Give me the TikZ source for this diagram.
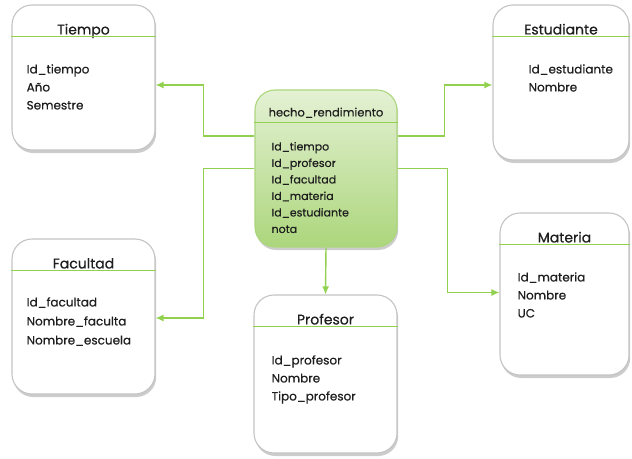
\documentclass[tikz,border=0pt]{standalone}
\usepackage{fontspec}
\setmainfont{Poppins}[FakeBold=0.5]
\usepackage{tikz}
\usetikzlibrary{positioning,arrows.meta,shadows}

\definecolor{verde}{RGB}{146,208,80}
\definecolor{verdeclaro}{RGB}{228,241,212}
\definecolor{verdefuerte}{RGB}{172,214,124}
\definecolor{borde}{RGB}{196,196,196}
\definecolor{letra}{RGB}{30,30,30}

\tikzset{
  tabla/.style={draw=borde, line width=1.1pt, rounded corners=20pt, fill=white, inner sep=0pt,
    drop shadow={opacity=0.4, shadow xshift=1.2pt, shadow yshift=-3pt}},
  hecho/.style={tabla, draw=verdefuerte, top color=verdeclaro, bottom color=verdefuerte},
  titulo/.style={font=\fontsize{14}{16}\selectfont, text=letra, anchor=base, inner sep=0pt},
  campo/.style={font=\fontsize{12}{14}\selectfont, text=letra, anchor=base west, inner sep=0pt},
  linea/.style={verde, line width=1.2pt},
  enlace/.style={verde, line width=1.4pt, -{Latex[length=8pt,width=7pt]}}
}

\begin{document}
\begin{tikzpicture}[x=1pt, y=-1pt]
\useasboundingbox (0,0) rectangle (632,458);

% tablas
\node[tabla, minimum width=143pt, minimum height=145pt](tiempo) at (83.5,77.5) {};
\node[tabla, minimum width=136pt, minimum height=155pt](estudiante) at (561,82.5) {};
\node[tabla, minimum width=143pt, minimum height=155pt](facultad) at (83.5,316.5) {};
\node[tabla, minimum width=143pt, minimum height=158pt](profesor) at (325.5,374) {};
\node[tabla, minimum width=129pt, minimum height=162pt](materia) at (564.5,294) {};
\node[hecho, minimum width=142pt, minimum height=157pt](hecho) at (326,168.5) {};

% cabeceras
\foreach \t/\n in {tiempo/Tiempo, estudiante/Estudiante, facultad/Facultad, profesor/Profesor, materia/Materia}
	{\node[titulo](\t-t) at ([yshift=-30pt]\t.north) {\n};
	\draw[linea] ([yshift=-32pt]\t.north west) -- ([yshift=-32pt]\t.north east);}
\node[titulo, font=\fontsize{11.5}{14}\selectfont](hecho-t) at ([yshift=-27pt]hecho.north) {hecho\_rendimiento};
\draw[linea] ([yshift=-33pt]hecho.north west) -- ([yshift=-33pt]hecho.north east);

% campos
\foreach \c [count=\i from 0] in {Id\_tiempo, Año, Semestre}
	\node[campo](tiempo-\i) at ([xshift=15pt, yshift={-69pt-18pt*\i}]tiempo.north west) {\c};
\foreach \c [count=\i from 0] in {Id\_estudiante, Nombre}
	\node[campo](estudiante-\i) at ([xshift=36pt, yshift={-69pt-18pt*\i}]estudiante.north west) {\c};
\foreach \c [count=\i from 0] in {Id\_facultad, Nombre\_faculta, Nombre\_escuela}
	\node[campo](facultad-\i) at ([xshift=15pt, yshift={-68pt-19pt*\i}]facultad.north west) {\c};
\foreach \c [count=\i from 0] in {Id\_profesor, Nombre, Tipo\_profesor}
	\node[campo](profesor-\i) at ([xshift=18pt, yshift={-70pt-18pt*\i}]profesor.north west) {\c};
\foreach \c [count=\i from 0] in {Id\_materia, Nombre, UC}
	\node[campo](materia-\i) at ([xshift=18pt, yshift={-69pt-18pt*\i}]materia.north west) {\c};
\foreach \c [count=\i from 0] in {Id\_tiempo, Id\_profesor, Id\_facultad, Id\_materia, Id\_estudiante, nota}
	\node[campo, font=\fontsize{11}{13}\selectfont](hecho-\i) at ([xshift=17pt, yshift={-61pt-16.5pt*\i}]hecho.north west) {\c};

% enlaces
\draw[enlace] ([yshift=32.5pt]hecho.west) -- ++(-51,0) |- ([yshift=-7.5pt]tiempo.east);
\draw[enlace] (hecho.west) -- ++(-51,0) |- ([yshift=-1.5pt]facultad.east);
\draw[enlace] ([yshift=32.5pt]hecho.east) -- ++(47,0) |- ([yshift=-2.5pt]estudiante.west);
\draw[enlace] (hecho.east) -- ++(50,0) |- ([yshift=1.5pt]materia.west);
\draw[enlace] (hecho.south) -- (profesor.north);
\end{tikzpicture}
\end{document}
